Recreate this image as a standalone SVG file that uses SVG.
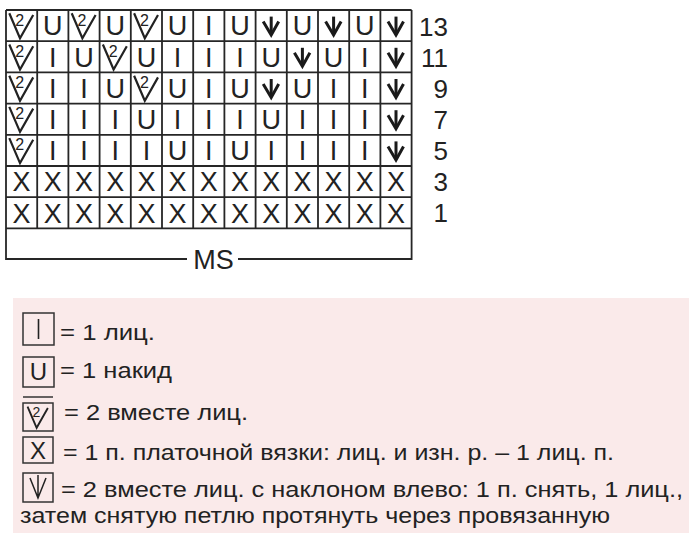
<svg xmlns="http://www.w3.org/2000/svg" width="690" height="543" viewBox="0 0 690 543">
<style>
.g{stroke:#262626;stroke-width:1.8;fill:none}
.s{font-family:"Liberation Sans",Arial,sans-serif;font-size:27px;fill:#222;text-anchor:middle}
.two{font-family:"Liberation Sans",Arial,sans-serif;font-size:16px;fill:#222;text-anchor:middle}
.num{font-family:"Liberation Sans",Arial,sans-serif;font-size:26px;fill:#222;text-anchor:end}
.lt{font-family:"Liberation Sans",Arial,sans-serif;font-size:22px;fill:#222}
.lb{stroke:#333;stroke-width:1.5;fill:none}
.sym{stroke:#222;stroke-width:2.2;fill:none}
.arr{stroke:#1a1a1a;stroke-width:3;fill:none;stroke-linecap:butt}
</style>
<defs>
<path id="vshape" d="M-12.3,-12.3 L-1.6,12.7 L11.6,-10.6" class="sym"/>
<g id="arrow" class="arr"><path d="M0,-9 L0,8"/><path d="M-8,-4 L0,9.5 L7.5,-4"/></g>
</defs>
<rect width="690" height="543" fill="#ffffff"/>
<g id="connectors">
<path class="g" d="M6,10 H411.6 M6,41.2 H411.6 M6,72.4 H411.6 M6,103.6 H411.6 M6,134.8 H411.6 M6,166 H411.6 M6,197.2 H411.6 M6,228.4 H411.6"/>
<path class="g" d="M37.2,10 V228.4 M68.4,10 V228.4 M99.6,10 V228.4 M130.8,10 V228.4 M162,10 V228.4 M193.2,10 V228.4 M224.4,10 V228.4 M255.6,10 V228.4 M286.8,10 V228.4 M318,10 V228.4 M349.2,10 V228.4 M380.4,10 V228.4"/>
<path class="g" d="M6,10 V259 H187 M238,259 H411.6 V10"/>
</g>
<g id="ms"><text x="213.5" y="268.5" class="lt" style="font-size:27px" text-anchor="middle">MS</text></g>
<g id="row-numbers">
<text class="num" x="448" y="35.5">13</text>
<text class="num" x="448" y="66.5">11</text>
<text class="num" x="448" y="97.5">9</text>
<text class="num" x="448" y="128.7">7</text>
<text class="num" x="448" y="160">5</text>
<text class="num" x="448" y="191">3</text>
<text class="num" x="448" y="222">1</text>
</g>
<g id="row13">
<use href="#vshape" x="21.6" y="25.6"/><text class="two" x="19.6" y="25.5">2</text>
<text class="s" x="52.8" y="35.3">U</text>
<use href="#vshape" x="84" y="25.6"/><text class="two" x="82" y="25.5">2</text>
<text class="s" x="115.2" y="35.3">U</text>
<use href="#vshape" x="146.4" y="25.6"/><text class="two" x="144.4" y="25.5">2</text>
<text class="s" x="177.6" y="35.3">U</text>
<text class="s" x="208.8" y="35.3">I</text>
<text class="s" x="240" y="35.3">U</text>
<use href="#arrow" x="271.2" y="25.6"/>
<text class="s" x="302.4" y="35.3">U</text>
<use href="#arrow" x="333.6" y="25.6"/>
<text class="s" x="364.8" y="35.3">U</text>
<use href="#arrow" x="396" y="25.6"/>
</g>
<g id="row11">
<use href="#vshape" x="21.6" y="56.8"/><text class="two" x="19.6" y="56.7">2</text>
<text class="s" x="52.8" y="66.5">I</text>
<text class="s" x="84" y="66.5">U</text>
<use href="#vshape" x="115.2" y="56.8"/><text class="two" x="113.2" y="56.7">2</text>
<text class="s" x="146.4" y="66.5">U</text>
<text class="s" x="177.6" y="66.5">I</text>
<text class="s" x="208.8" y="66.5">I</text>
<text class="s" x="240" y="66.5">I</text>
<text class="s" x="271.2" y="66.5">U</text>
<use href="#arrow" x="302.4" y="56.8"/>
<text class="s" x="333.6" y="66.5">U</text>
<text class="s" x="364.8" y="66.5">I</text>
<use href="#arrow" x="396" y="56.8"/>
</g>
<g id="row9">
<use href="#vshape" x="21.6" y="88"/><text class="two" x="19.6" y="87.9">2</text>
<text class="s" x="52.8" y="97.7">I</text>
<text class="s" x="84" y="97.7">I</text>
<text class="s" x="115.2" y="97.7">U</text>
<use href="#vshape" x="146.4" y="88"/><text class="two" x="144.4" y="87.9">2</text>
<text class="s" x="177.6" y="97.7">U</text>
<text class="s" x="208.8" y="97.7">I</text>
<text class="s" x="240" y="97.7">U</text>
<use href="#arrow" x="271.2" y="88"/>
<text class="s" x="302.4" y="97.7">U</text>
<text class="s" x="333.6" y="97.7">I</text>
<text class="s" x="364.8" y="97.7">I</text>
<use href="#arrow" x="396" y="88"/>
</g>
<g id="row7">
<use href="#vshape" x="21.6" y="119.2"/><text class="two" x="19.6" y="119.1">2</text>
<text class="s" x="52.8" y="128.9">I</text>
<text class="s" x="84" y="128.9">I</text>
<text class="s" x="115.2" y="128.9">I</text>
<text class="s" x="146.4" y="128.9">U</text>
<text class="s" x="177.6" y="128.9">I</text>
<text class="s" x="208.8" y="128.9">I</text>
<text class="s" x="240" y="128.9">I</text>
<text class="s" x="271.2" y="128.9">U</text>
<text class="s" x="302.4" y="128.9">I</text>
<text class="s" x="333.6" y="128.9">I</text>
<text class="s" x="364.8" y="128.9">I</text>
<use href="#arrow" x="396" y="119.2"/>
</g>
<g id="row5">
<use href="#vshape" x="21.6" y="150.4"/><text class="two" x="19.6" y="150.3">2</text>
<text class="s" x="52.8" y="160.1">I</text>
<text class="s" x="84" y="160.1">I</text>
<text class="s" x="115.2" y="160.1">I</text>
<text class="s" x="146.4" y="160.1">I</text>
<text class="s" x="177.6" y="160.1">U</text>
<text class="s" x="208.8" y="160.1">I</text>
<text class="s" x="240" y="160.1">U</text>
<text class="s" x="271.2" y="160.1">I</text>
<text class="s" x="302.4" y="160.1">I</text>
<text class="s" x="333.6" y="160.1">I</text>
<text class="s" x="364.8" y="160.1">I</text>
<use href="#arrow" x="396" y="150.4"/>
</g>
<g id="row3">
<text class="s" x="21.6" y="191.3">X</text><text class="s" x="52.8" y="191.3">X</text><text class="s" x="84" y="191.3">X</text><text class="s" x="115.2" y="191.3">X</text><text class="s" x="146.4" y="191.3">X</text><text class="s" x="177.6" y="191.3">X</text><text class="s" x="208.8" y="191.3">X</text><text class="s" x="240" y="191.3">X</text><text class="s" x="271.2" y="191.3">X</text><text class="s" x="302.4" y="191.3">X</text><text class="s" x="333.6" y="191.3">X</text><text class="s" x="364.8" y="191.3">X</text><text class="s" x="396" y="191.3">X</text>
</g>
<g id="row1">
<text class="s" x="21.6" y="222.5">X</text><text class="s" x="52.8" y="222.5">X</text><text class="s" x="84" y="222.5">X</text><text class="s" x="115.2" y="222.5">X</text><text class="s" x="146.4" y="222.5">X</text><text class="s" x="177.6" y="222.5">X</text><text class="s" x="208.8" y="222.5">X</text><text class="s" x="240" y="222.5">X</text><text class="s" x="271.2" y="222.5">X</text><text class="s" x="302.4" y="222.5">X</text><text class="s" x="333.6" y="222.5">X</text><text class="s" x="364.8" y="222.5">X</text><text class="s" x="396" y="222.5">X</text>
</g>
<g id="legend">
<rect x="13" y="298" width="676" height="235" fill="#faeaea"/>
<g id="leg-knit">
<rect class="lb" x="23" y="313" width="31" height="32"/>
<path d="M38.5,319 V339" stroke="#222" stroke-width="1.6"/>
<text class="lt" x="60" y="340" textLength="95" lengthAdjust="spacingAndGlyphs">= 1 лиц.</text>
</g>
<g id="leg-yo">
<rect class="lb" x="23" y="357" width="31" height="30"/>
<text class="s" x="38.5" y="380" style="font-size:24px">U</text>
<text class="lt" x="60" y="378" textLength="112" lengthAdjust="spacingAndGlyphs">= 1 накид</text>
</g>
<g id="leg-k2tog">
<path class="lb" d="M23,397 H53"/>
<rect class="lb" x="23" y="403" width="30" height="28"/>
<use href="#vshape" transform="translate(38,417) scale(0.85)"/>
<text class="two" x="36.5" y="417" style="font-size:14px">2</text>
<text class="lt" x="64" y="420" textLength="184" lengthAdjust="spacingAndGlyphs">= 2 вместе лиц.</text>
</g>
<g id="leg-garter">
<rect class="lb" x="23" y="437" width="30" height="26"/>
<text class="s" x="38" y="459" style="font-size:24px">X</text>
<text class="lt" x="63" y="460" textLength="551" lengthAdjust="spacingAndGlyphs">= 1 п. платочной вязки: лиц. и изн. р. – 1 лиц. п.</text>
</g>
<g id="leg-ssk">
<rect class="lb" x="23" y="473" width="30" height="29"/>
<path d="M30,478 L38,498 L46,478 M38,475 V498" stroke="#222" stroke-width="1.5" fill="none"/>
<text class="lt" x="61" y="497" textLength="622" lengthAdjust="spacingAndGlyphs">= 2 вместе лиц. с наклоном влево: 1 п. снять, 1 лиц.,</text>
<text class="lt" x="20" y="523" textLength="590" lengthAdjust="spacingAndGlyphs">затем снятую петлю протянуть через провязанную</text>
</g>
</g>
</svg>
